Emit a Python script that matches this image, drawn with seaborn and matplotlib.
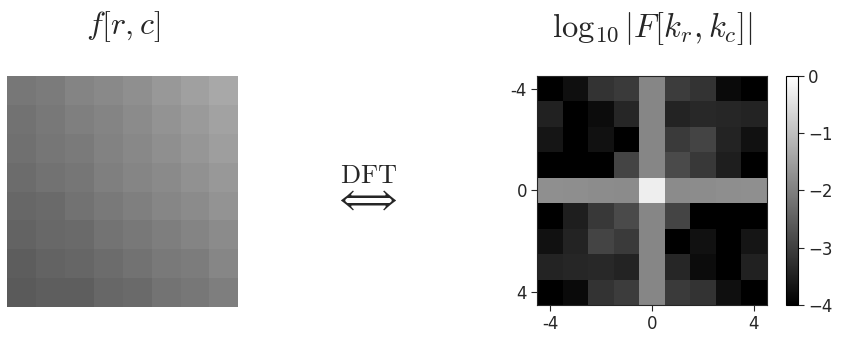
import numpy as np
import matplotlib
matplotlib.use("Agg")
import matplotlib.pyplot as plt
import seaborn as sns

sns.set_style("white")
plt.rcParams["mathtext.fontset"] = "cm"
plt.rcParams["font.family"] = ["DejaVu Sans"]

# gray levels of the 8x8 image f[r, c] (0-255)
image_rows = [
    [119, 123, 132, 137, 143, 152, 160, 168],
    [114, 120, 127, 132, 139, 147, 154, 162],
    [112, 118, 122, 130, 136, 143, 150, 158],
    [108, 114, 118, 127, 133, 138, 145, 152],
    [103, 106, 114, 121, 127, 134, 139, 147],
    [99, 104, 106, 115, 120, 126, 132, 139],
    [93, 99, 102, 108, 114, 121, 124, 134],
    [90, 94, 94, 103, 106, 115, 119, 126],
]

# log10 |F[kr, kc]| for kr, kc = -4..4
freqs = [-4, -3, -2, -1, 0, 1, 2, 3, 4]
shown_ticks = [-4, 0, 4]
log_mag = [
    [-4.3, -3.76, -3.20, -3.09, -1.90, -3.06, -3.20, -3.84, -4.3],
    [-3.47, -4.3, -3.80, -3.40, -1.90, -3.44, -3.37, -3.40, -3.44],
    [-3.67, -4.3, -3.72, -4.3, -1.90, -3.09, -2.93, -3.44, -3.72],
    [-4.3, -4.3, -4.3, -2.93, -1.90, -2.84, -3.12, -3.53, -4.3],
    [-1.76, -1.78, -1.80, -1.82, -0.27, -1.82, -1.80, -1.78, -1.76],
    [-4.3, -3.53, -3.12, -2.84, -1.90, -2.93, -4.3, -4.3, -4.3],
    [-3.72, -3.44, -2.93, -3.09, -1.90, -4.3, -3.72, -4.3, -3.67],
    [-3.44, -3.40, -3.37, -3.44, -1.90, -3.40, -3.80, -4.3, -3.47],
    [-4.3, -3.84, -3.20, -3.06, -1.90, -3.09, -3.20, -3.76, -4.3],
]

fig = plt.figure(figsize=(8.43, 3.37), dpi=100)
ax_img = fig.add_axes([0.0083, 0.089, 0.275, 0.685])
ax_spec = fig.add_axes([0.636, 0.095, 0.275, 0.680])
ax_cb = fig.add_axes([0.932, 0.095, 0.0142, 0.680])

# left: the image itself
sns.heatmap(np.array(image_rows), ax=ax_img, cmap="gray", vmin=0, vmax=255,
            cbar=False, xticklabels=False, yticklabels=False, square=True)
ax_img.set_title(r"$f[r,c]$", fontsize=23, pad=30)

# right: log magnitude spectrum
sns.heatmap(np.array(log_mag), ax=ax_spec, cmap="gray", vmin=-4, vmax=0,
            cbar_ax=ax_cb, xticklabels=False, yticklabels=False,
            square=True, cbar_kws={"ticks": [0, -1, -2, -3, -4]})
pos = [freqs.index(k) + 0.5 for k in shown_ticks]
ax_spec.set_xticks(pos)
ax_spec.set_xticklabels([str(k) for k in shown_ticks], rotation=0)
ax_spec.set_yticks(pos)
ax_spec.set_yticklabels([str(k) for k in shown_ticks], rotation=0)
for s in ax_spec.spines.values():
    s.set_visible(True)
    s.set_linewidth(0.8)
ax_spec.tick_params(axis="both", length=4, width=0.8, labelsize=12,
                    bottom=True, left=True)
ax_spec.set_title(r"$\log_{10}|F[k_r,k_c]|$", fontsize=23.5, pad=28)

cb = ax_spec.collections[0].colorbar
cb.outline.set_linewidth(0.8)
cb.outline.set_edgecolor("black")
ax_cb.tick_params(labelsize=12, length=4, width=0.8, right=True)

fig.text(0.433, 0.425, r"$\overset{\mathrm{DFT}}{\Longleftrightarrow}$",
         fontsize=27, ha="center", va="center")

fig.savefig("out.png", dpi=100)
